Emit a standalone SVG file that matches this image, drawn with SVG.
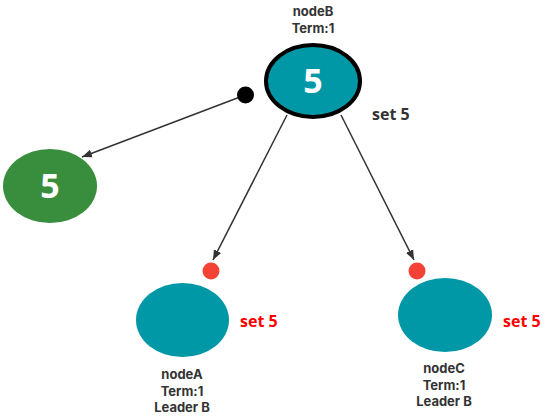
<svg xmlns="http://www.w3.org/2000/svg" width="551" height="420" viewBox="0 0 551 420">
<defs>
<style>
.lbl{font-family:Inter,"Open Sans",sans-serif;font-weight:bold;font-size:13px;fill:#333;text-anchor:middle}
.num{font-family:"Open Sans","Noto Sans",sans-serif;font-weight:bold;font-size:34px;fill:#fff;text-anchor:middle}
.set{font-family:"Open Sans","Noto Sans",sans-serif;font-weight:bold;font-size:16px}
.edge{stroke:#333;stroke-width:1.5;fill:none}
</style>
<marker id="arr" viewBox="0 0 10 10" refX="10" refY="5" markerWidth="10" markerHeight="10" markerUnits="userSpaceOnUse" orient="auto">
<path d="M0,1 L10,5 L0,9 Z" fill="#333"/>
</marker>
</defs>
<rect width="551" height="420" fill="#fff"/>
<g id="connectors">
<line class="edge" x1="240" y1="97" x2="82" y2="157" marker-end="url(#arr)"/>
<line class="edge" x1="287" y1="115" x2="213" y2="260" marker-end="url(#arr)"/>
<line class="edge" x1="341" y1="115" x2="414" y2="260" marker-end="url(#arr)"/>
</g>
<g id="nodeB">
<ellipse cx="313" cy="81" rx="47" ry="36" fill="#0097a7" stroke="#000" stroke-width="4"/>
<text class="num" x="313" y="93">5</text>
<text class="lbl" x="313" y="16">nodeB</text>
<text class="lbl" x="313" y="32.5">Term:1</text>
<text class="set" x="372" y="120" fill="#333">set 5</text>
</g>
<g id="dotB">
<circle cx="245.5" cy="95" r="8.5" fill="#000"/>
</g>
<g id="green">
<ellipse cx="50" cy="186" rx="47" ry="37" fill="#388e3c"/>
<text class="num" x="50" y="198">5</text>
</g>
<g id="nodeA">
<circle cx="211" cy="271" r="8.5" fill="#f44336"/>
<ellipse cx="182.5" cy="320" rx="46.5" ry="37" fill="#0097a7"/>
<text class="set" x="240" y="327" fill="#f00">set 5</text>
<text class="lbl" x="182" y="379">nodeA</text>
<text class="lbl" x="182" y="395.5">Term:1</text>
<text class="lbl" x="182" y="412">Leader B</text>
</g>
<g id="nodeC">
<circle cx="417" cy="271" r="8.5" fill="#f44336"/>
<ellipse cx="445" cy="315" rx="47" ry="37" fill="#0097a7"/>
<text class="set" x="503" y="327" fill="#f00">set 5</text>
<text class="lbl" x="444" y="373">nodeC</text>
<text class="lbl" x="444" y="389.5">Term:1</text>
<text class="lbl" x="444" y="406">Leader B</text>
</g>
</svg>
